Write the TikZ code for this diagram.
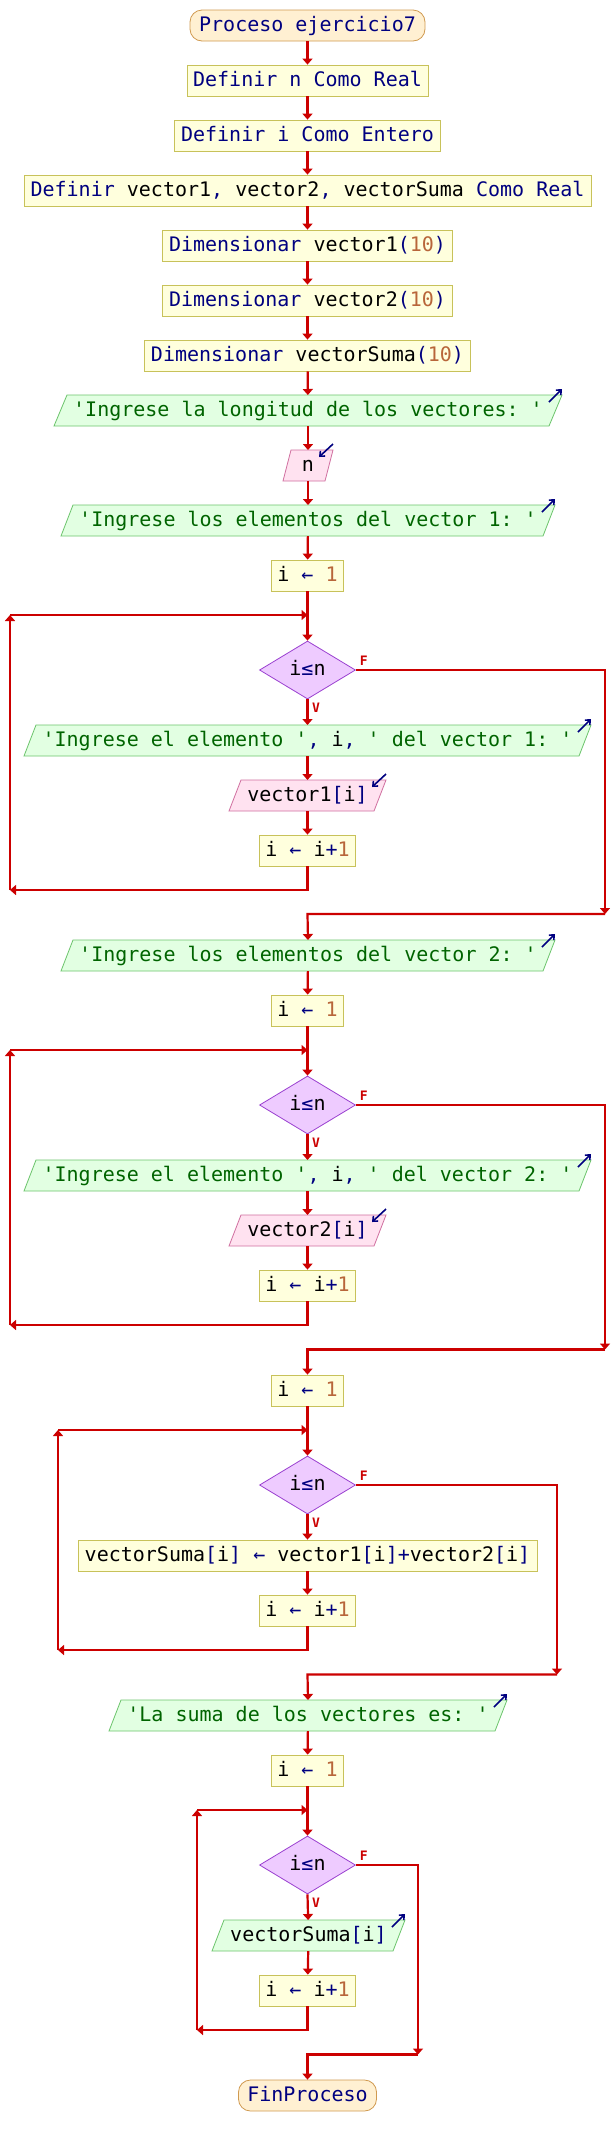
\documentclass[tikz,border=0pt]{standalone}
\usepackage{fontspec}
\setmonofont{DejaVu Sans Mono}
\usetikzlibrary{shapes.geometric,arrows.meta,backgrounds,calc}
\definecolor{procF}{HTML}{FFFFDD}
\definecolor{procB}{HTML}{C8C25A}
\definecolor{termF}{HTML}{FFF0D2}
\definecolor{termB}{HTML}{D09A50}
\definecolor{outF}{HTML}{E2FFE2}
\definecolor{outB}{HTML}{6CC46C}
\definecolor{inF}{HTML}{FFE2F0}
\definecolor{inB}{HTML}{D070A0}
\definecolor{decF}{HTML}{EECBFF}
\definecolor{decB}{HTML}{9A40D0}
\definecolor{flowC}{HTML}{CC0000}
\definecolor{kwC}{HTML}{000080}
\definecolor{strC}{HTML}{006400}
\definecolor{numC}{HTML}{B8663A}
\newcommand{\kw}[1]{\textcolor{kwC}{#1}}
\newcommand{\st}[1]{\textcolor{strC}{#1}}
\newcommand{\nm}[1]{\textcolor{numC}{#1}}
\newcommand{\iopar}[4]{%
  \begin{scope}[on background layer]
  \filldraw[fill=#3, draw=#4, line width=0.8pt]
    ($(#1.south west)+(-#2,0)$) -- ($(#1.north west)+(#2,0)$) --
    ($(#1.north east)+(#2,0)$) -- ($(#1.south east)+(-#2,0)$) -- cycle;
  \end{scope}}
\newcommand{\outpar}[2]{\iopar{#1}{#2}{outF}{outB}%
  \draw[icon] ($(#1.north east)+(#2,0)+(-13,7)$) -- ($(#1.north east)+(#2,0)+(0,-6)$);}
\newcommand{\inpar}[2]{\iopar{#1}{#2}{inF}{inB}%
  \draw[icon] ($(#1.north east)+(#2,0)+(0,-6)$) -- ($(#1.north east)+(#2,0)+(-14,7)$);}
\begin{document}
\begin{tikzpicture}[x=1pt,y=-1pt,
  base/.style={font=\ttfamily\fontsize{20}{24}\selectfont, text height=15pt, text depth=4pt,
    minimum height=31pt, inner xsep=6pt, inner ysep=0pt},
  procbox/.style={base, rectangle, draw=procB, fill=procF, line width=0.8pt},
  termbox/.style={base, rectangle, rounded corners=12pt, draw=termB, fill=termF, line width=0.8pt, text=kwC},
  iobox/.style={base, rectangle, outer sep=0pt},
  decbox/.style={diamond, draw=decB, fill=decF, line width=0.8pt, minimum width=96pt,
    minimum height=58pt, inner sep=0pt, font=\ttfamily\fontsize{20}{24}\selectfont,
    text height=15pt, text depth=4pt},
  flow/.style={draw=flowC, line width=2.2pt, -{Triangle[length=6pt,width=10pt]}},
  icon/.style={draw=kwC, line width=1.6pt, -{Straight Barb[length=4pt,width=7pt]}},
  lab/.style={text=flowC, font=\ttfamily\bfseries\fontsize{13}{13}\selectfont, inner sep=0pt}
]
\begin{scope}[on background layer]
\fill[white] (0,0) rectangle (612,2145);
\end{scope}
\useasboundingbox (0,0) rectangle (612,2145);

% ---- header ----
\node[termbox, minimum width=235pt] (t0) at (307.5,25.5) {Proceso ejercicio7};
\node[procbox, minimum width=241pt] (p1) at (307.5,80.5) {\kw{Definir n Como Real}};
\node[procbox, minimum width=266pt] (p2) at (307.5,135.5) {\kw{Definir i Como Entero}};
\node[procbox, minimum width=567pt] (p3) at (307.5,190.5) {\kw{Definir} vector1\kw{,} vector2\kw{,} vectorSuma \kw{Como Real}};
\node[procbox, minimum width=290pt] (p4) at (307.5,245.5) {\kw{Dimensionar} vector1\kw{(}\nm{10}\kw{)}};
\node[procbox, minimum width=290pt] (p5) at (307.5,300.5) {\kw{Dimensionar} vector2\kw{(}\nm{10}\kw{)}};
\node[procbox, minimum width=326pt] (p6) at (307.5,355.5) {\kw{Dimensionar} vectorSuma\kw{(}\nm{10}\kw{)}};
\node[iobox, minimum width=495pt] (o1) at (308,410.5) {\st{'Ingrese la longitud de los vectores: '}};
\outpar{o1}{6.5}
\node[iobox, minimum width=42pt, inner xsep=0pt] (in1) at (308,465.5) {n};
\inpar{in1}{4}
\node[iobox, minimum width=482pt] (o2) at (308,520.5) {\st{'Ingrese los elementos del vector 1: '}};
\outpar{o2}{6}

% ---- loop 1 ----
\node[procbox, minimum width=72pt] (a1) at (307.5,575.5) {i \kw{←} \nm{1}};
\node[decbox] (d1) at (307.5,670) {i\kw{≤}n};
\node[iobox, minimum width=555pt] (o3) at (307.5,740.5) {\st{'Ingrese el elemento '}\kw{,} i\kw{,} \st{' del vector 1: '}};
\outpar{o3}{6}
\node[iobox, minimum width=145pt] (in2) at (307.5,795.5) {vector1\kw{[}i\kw{]}};
\inpar{in2}{6}
\node[procbox, minimum width=96pt] (a2) at (307.5,850.5) {i \kw{←} i\kw{+}\nm{1}};
\node[iobox, minimum width=482pt] (o4) at (308,955.5) {\st{'Ingrese los elementos del vector 2: '}};
\outpar{o4}{6}

% ---- loop 2 ----
\node[procbox, minimum width=72pt] (a3) at (307.5,1010.5) {i \kw{←} \nm{1}};
\node[decbox] (d2) at (307.5,1105) {i\kw{≤}n};
\node[iobox, minimum width=555pt] (o5) at (307.5,1175.5) {\st{'Ingrese el elemento '}\kw{,} i\kw{,} \st{' del vector 2: '}};
\outpar{o5}{6}
\node[iobox, minimum width=145pt] (in3) at (307.5,1230.5) {vector2\kw{[}i\kw{]}};
\inpar{in3}{6}
\node[procbox, minimum width=96pt] (a4) at (307.5,1285.5) {i \kw{←} i\kw{+}\nm{1}};

% ---- loop 3 ----
\node[procbox, minimum width=72pt] (a5) at (307.5,1390.5) {i \kw{←} \nm{1}};
\node[decbox] (d3) at (307.5,1485) {i\kw{≤}n};
\node[procbox, minimum width=459pt] (a6) at (307.5,1555.5) {vectorSuma\kw{[}i\kw{]} \kw{←} vector1\kw{[}i\kw{]+}vector2\kw{[}i\kw{]}};
\node[procbox, minimum width=96pt] (a7) at (307.5,1610.5) {i \kw{←} i\kw{+}\nm{1}};
\node[iobox, minimum width=386pt] (o6) at (308,1715.5) {\st{'La suma de los vectores es: '}};
\outpar{o6}{6}

% ---- loop 4 ----
\node[procbox, minimum width=72pt] (a8) at (307.5,1770.5) {i \kw{←} \nm{1}};
\node[decbox] (d4) at (307.5,1865) {i\kw{≤}n};
\node[iobox, minimum width=181pt] (o7) at (308.5,1935.5) {vectorSuma\kw{[}i\kw{]}};
\outpar{o7}{6}
\node[procbox, minimum width=96pt] (a9) at (307.5,1990.5) {i \kw{←} i\kw{+}\nm{1}};
\node[termbox, minimum width=138pt] (t1) at (307.5,2095.5) {FinProceso};

% ---- coordinates ----
\coordinate (L1t) at (10,615);   \coordinate (L1j) at (307.5,615);
\coordinate (L1b) at (10,890);   \coordinate (L1s) at (307.5,890);
\coordinate (L1r) at (605,670);  \coordinate (L1m) at (605,914);  \coordinate (L1c) at (307.5,914);
\coordinate (L2t) at (10,1050);  \coordinate (L2j) at (307.5,1050);
\coordinate (L2b) at (10,1325);  \coordinate (L2s) at (307.5,1325);
\coordinate (L2r) at (605,1105); \coordinate (L2m) at (605,1349.5); \coordinate (L2c) at (307.5,1349.5);
\coordinate (L3t) at (58,1430);  \coordinate (L3j) at (307.5,1430);
\coordinate (L3b) at (58,1650);  \coordinate (L3s) at (307.5,1650);
\coordinate (L3r) at (557,1485); \coordinate (L3m) at (557,1674.5); \coordinate (L3c) at (307.5,1674.5);
\coordinate (L4t) at (197,1810); \coordinate (L4j) at (307.5,1810);
\coordinate (L4b) at (197,2030); \coordinate (L4s) at (307.5,2030);
\coordinate (L4r) at (418,1865); \coordinate (L4m) at (418,2054.5); \coordinate (L4c) at (307.5,2054.5);

% ---- straight flow ----
\draw[flow] (t0) -- (p1);
\draw[flow] (p1) -- (p2);
\draw[flow] (p2) -- (p3);
\draw[flow] (p3) -- (p4);
\draw[flow] (p4) -- (p5);
\draw[flow] (p5) -- (p6);
\draw[flow] (p6) -- (o1);
\draw[flow] (o1) -- (in1);
\draw[flow] (in1) -- (o2);
\draw[flow] (o2) -- (a1);

% loop 1
\draw[flow] (a1) -- (d1.north);
\draw[flow] (d1.south) -- (o3);
\draw[flow] (o3) -- (in2);
\draw[flow] (in2) -- (a2);
\draw[flow] (a2.south) -- (L1s) -- (L1b);
\draw[flow] (L1b) -- (L1t);
\draw[flow] (L1t) -- (L1j);
\draw[flow] (d1.east) -- (L1r) -- (L1m);
\draw[flow] (L1m) -- (L1c) -- (o4.north);
\draw[flow] (o4) -- (a3);

% loop 2
\draw[flow] (a3) -- (d2.north);
\draw[flow] (d2.south) -- (o5);
\draw[flow] (o5) -- (in3);
\draw[flow] (in3) -- (a4);
\draw[flow] (a4.south) -- (L2s) -- (L2b);
\draw[flow] (L2b) -- (L2t);
\draw[flow] (L2t) -- (L2j);
\draw[flow] (d2.east) -- (L2r) -- (L2m);
\draw[flow] (L2m) -- (L2c) -- (a5.north);

% loop 3
\draw[flow] (a5) -- (d3.north);
\draw[flow] (d3.south) -- (a6);
\draw[flow] (a6) -- (a7);
\draw[flow] (a7.south) -- (L3s) -- (L3b);
\draw[flow] (L3b) -- (L3t);
\draw[flow] (L3t) -- (L3j);
\draw[flow] (d3.east) -- (L3r) -- (L3m);
\draw[flow] (L3m) -- (L3c) -- (o6.north);
\draw[flow] (o6) -- (a8);

% loop 4
\draw[flow] (a8) -- (d4.north);
\draw[flow] (d4.south) -- (o7);
\draw[flow] (o7) -- (a9);
\draw[flow] (a9.south) -- (L4s) -- (L4b);
\draw[flow] (L4b) -- (L4t);
\draw[flow] (L4t) -- (L4j);
\draw[flow] (d4.east) -- (L4r) -- (L4m);
\draw[flow] (L4m) -- (L4c) -- (t1.north);

% labels
\foreach \d in {d1,d2,d3,d4}{
  \node[lab] (\d F) at ($(\d.east)+(8,-9)$) {F};
  \node[lab] (\d V) at ($(\d.south)+(8.5,8.5)$) {V};
}
\end{tikzpicture}
\end{document}
